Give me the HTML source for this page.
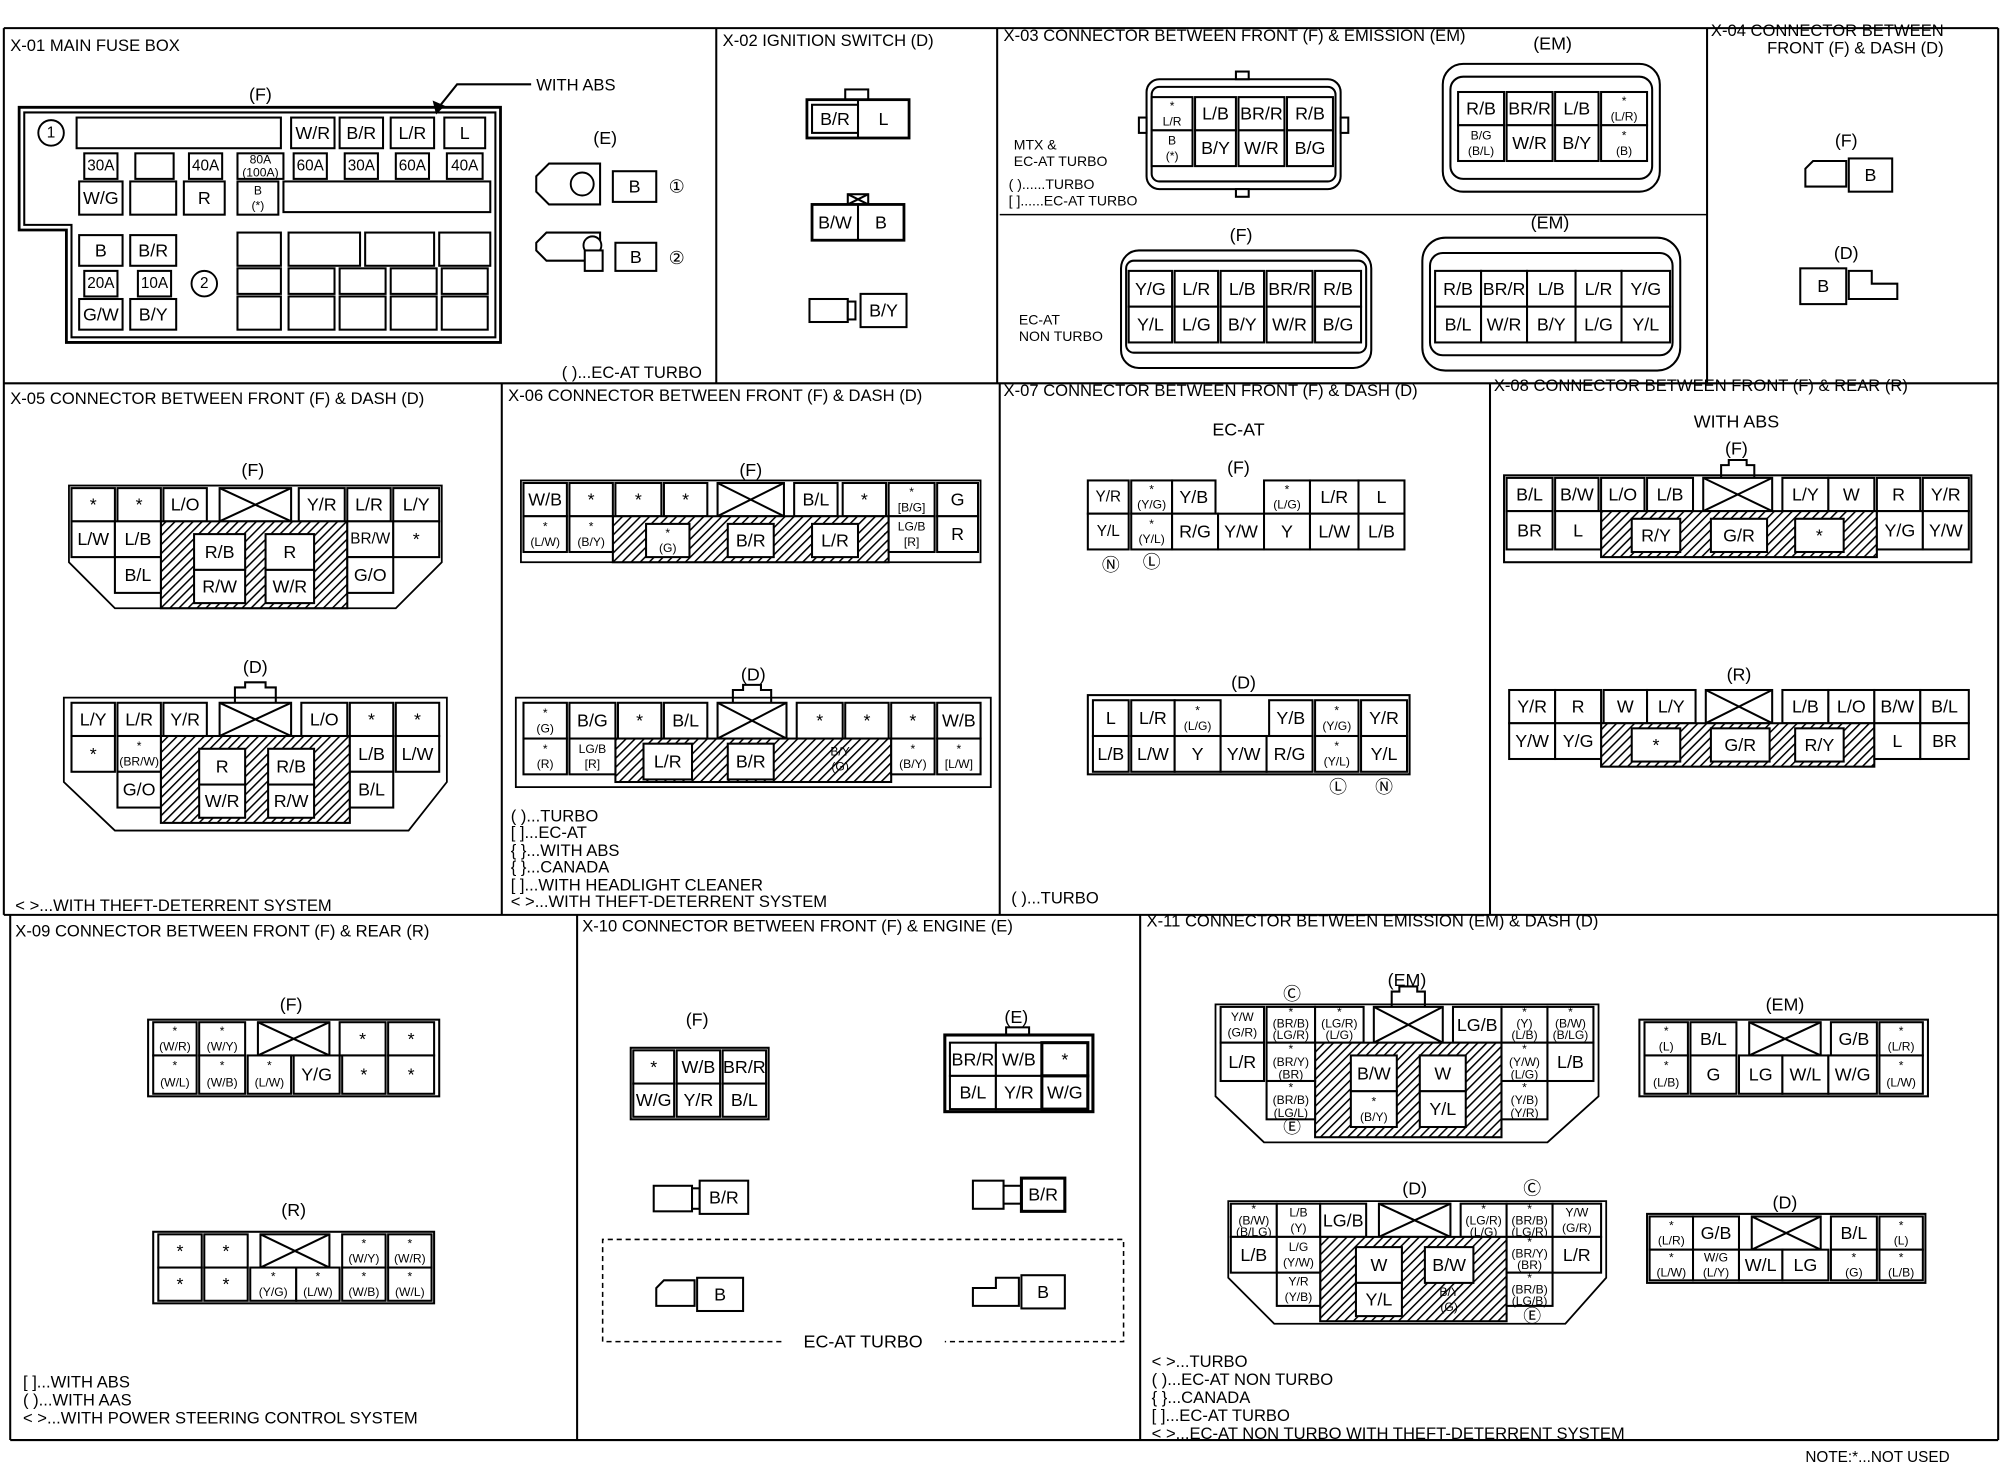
<!DOCTYPE html>
<html><head><meta charset="utf-8"><style>
html,body{margin:0;padding:0;background:#fff}
svg{display:block}
rect{fill:#fff;stroke:#000;stroke-width:1.6}
rect.h{fill:url(#hatch)}
rect.n{fill:none}
line,polyline,polygon,path{stroke:#000;stroke-width:1.6;fill:none}
text{font-family:"Liberation Sans",sans-serif;font-size:14px;text-anchor:middle;dominant-baseline:central;fill:#000}
text.t{text-anchor:start;font-size:13px;dominant-baseline:auto}
text.s{font-size:9.5px}
circle{fill:#fff;stroke:#000;stroke-width:1.5}
</style></head><body>
<svg width="2002" height="1472" viewBox="0 0 1568 1152" preserveAspectRatio="none" xmlns="http://www.w3.org/2000/svg">
<defs><pattern id="hatch" width="5" height="5" patternUnits="userSpaceOnUse" patternTransform="rotate(45)"><rect x="0" y="0" width="5" height="5" style="fill:#fff;stroke:none"/><line x1="0" y1="0" x2="0" y2="5" style="stroke:#000;stroke-width:2.4"/></pattern></defs>
<rect x="0" y="0" width="1568" height="1152" style="stroke:none"/>
<!-- frame -->
<g style="stroke-width:2.2">
<line x1="3" y1="22" x2="1565" y2="22"/><line x1="3" y1="300" x2="1565" y2="300"/><line x1="3" y1="716" x2="1565" y2="716"/><line x1="8" y1="1127" x2="1565" y2="1127"/>
<line x1="3" y1="22" x2="3" y2="716"/><line x1="561" y1="22" x2="561" y2="300"/><line x1="781" y1="22" x2="781" y2="300"/><line x1="1337" y1="22" x2="1337" y2="300"/><line x1="1565" y1="22" x2="1565" y2="1127"/>
<line x1="393" y1="300" x2="393" y2="716"/><line x1="783" y1="300" x2="783" y2="716"/><line x1="1167" y1="300" x2="1167" y2="716"/>
<line x1="8" y1="716" x2="8" y2="1127"/><line x1="452" y1="716" x2="452" y2="1127"/><line x1="893" y1="716" x2="893" y2="1127"/>
<line x1="783" y1="168" x2="1337" y2="168" style="stroke-width:1.2"/>
</g>
<!-- titles -->
<text class="t" x="8" y="40">X-01 MAIN FUSE BOX</text>
<text class="t" x="566" y="36">X-02 IGNITION SWITCH (D)</text>
<text class="t" x="786" y="32">X-03 CONNECTOR BETWEEN FRONT (F) &amp; EMISSION (EM)</text>
<text class="t" x="1340" y="28">X-04 CONNECTOR BETWEEN</text>
<text class="t" x="1384" y="42">FRONT (F) &amp; DASH (D)</text>
<text class="t" x="8" y="316">X-05 CONNECTOR BETWEEN FRONT (F) &amp; DASH (D)</text>
<text class="t" x="398" y="314">X-06 CONNECTOR BETWEEN FRONT (F) &amp; DASH (D)</text>
<text class="t" x="786" y="310">X-07 CONNECTOR BETWEEN FRONT (F) &amp; DASH (D)</text>
<text class="t" x="1170" y="306">X-08 CONNECTOR BETWEEN FRONT (F) &amp; REAR (R)</text>
<text class="t" x="12" y="733">X-09 CONNECTOR BETWEEN FRONT (F) &amp; REAR (R)</text>
<text class="t" x="456" y="729">X-10 CONNECTOR BETWEEN FRONT (F) &amp; ENGINE (E)</text>
<text class="t" x="898" y="725">X-11 CONNECTOR BETWEEN EMISSION (EM) &amp; DASH (D)</text>

<!-- X-01 -->
<polygon points="15,84 392,84 392,268 52,268 52,180 15,180" style="stroke-width:2.2"/>
<polygon points="19,88 388,88 388,264 56,264 56,176 19,176"/>
<circle cx="40" cy="104" r="10"/><text x="40" y="104" style="font-size:12px">1</text>
<rect x="60" y="92" width="160" height="24"/>
<rect x="228" y="92" width="34" height="24"/><text x="245" y="104">W/R</text>
<rect x="266" y="92" width="34" height="24"/><text x="283" y="104">B/R</text>
<rect x="306" y="92" width="34" height="24"/><text x="323" y="104">L/R</text>
<rect x="348" y="92" width="32" height="24"/><text x="364" y="104">L</text>
<rect x="66" y="120" width="26" height="20"/><text x="79" y="130" style="font-size:12px">30A</text>
<rect x="106" y="120" width="30" height="20"/>
<rect x="148" y="120" width="26" height="20"/><text x="161" y="130" style="font-size:12px">40A</text>
<rect x="186" y="120" width="36" height="20"/><text class="s" x="204" y="125">80A</text><text class="s" x="204" y="135">(100A)</text>
<rect x="230" y="120" width="26" height="20"/><text x="243" y="130" style="font-size:12px">60A</text>
<rect x="270" y="120" width="26" height="20"/><text x="283" y="130" style="font-size:12px">30A</text>
<rect x="310" y="120" width="26" height="20"/><text x="323" y="130" style="font-size:12px">60A</text>
<rect x="350" y="120" width="28" height="20"/><text x="364" y="130" style="font-size:12px">40A</text>
<rect x="62" y="142" width="34" height="26"/><text x="79" y="155">W/G</text>
<rect x="102" y="142" width="36" height="26"/>
<rect x="144" y="142" width="32" height="26"/><text x="160" y="155">R</text>
<rect x="186" y="142" width="32" height="26"/><text class="s" x="202" y="149">B</text><text class="s" x="202" y="161">(*)</text>
<rect x="222" y="142" width="162" height="24"/>
<rect x="62" y="184" width="34" height="24"/><text x="79" y="196">B</text>
<rect x="102" y="184" width="36" height="24"/><text x="120" y="196">B/R</text>
<rect x="66" y="212" width="26" height="20"/><text x="79" y="222" style="font-size:12px">20A</text>
<rect x="108" y="212" width="26" height="20"/><text x="121" y="222" style="font-size:12px">10A</text>
<circle cx="160" cy="222" r="10"/><text x="160" y="222" style="font-size:12px">2</text>
<rect x="62" y="234" width="34" height="24"/><text x="79" y="246">G/W</text>
<rect x="102" y="234" width="36" height="24"/><text x="120" y="246">B/Y</text>
<rect x="186" y="182" width="34" height="26"/><rect x="226" y="182" width="56" height="26"/><rect x="286" y="182" width="54" height="26"/><rect x="344" y="182" width="40" height="26"/>
<rect x="186" y="210" width="34" height="20"/><rect x="226" y="210" width="36" height="20"/><rect x="266" y="210" width="36" height="20"/><rect x="306" y="210" width="36" height="20"/><rect x="346" y="210" width="36" height="20"/>
<rect x="186" y="232" width="34" height="26"/><rect x="226" y="232" width="36" height="26"/><rect x="266" y="232" width="36" height="26"/><rect x="306" y="232" width="36" height="26"/><rect x="346" y="232" width="36" height="26"/>
<text x="204" y="74">(F)</text>
<text class="t" x="420" y="71">WITH ABS</text>
<polyline points="416,66 358,66 342,86"/><polygon points="342,88 340,80 347,83" style="fill:#000"/>
<text x="474" y="108">(E)</text>
<polygon points="430,128 470,128 470,160 430,160 420,150 420,138"/><circle cx="456" cy="144" r="9"/>
<rect x="480" y="134" width="34" height="24"/><text x="497" y="146">B</text><text x="530" y="146">①</text>
<polygon points="428,182 470,182 470,204 428,204 420,196 420,190"/><circle cx="464" cy="192" r="7"/><rect x="458" y="196" width="14" height="16"/>
<rect x="482" y="190" width="32" height="22"/><text x="498" y="201">B</text><text x="530" y="202">②</text>
<text class="t" x="440" y="296">( )...EC-AT TURBO</text>

<!-- X-02 -->
<rect x="662" y="70" width="18" height="8"/>
<rect x="632" y="78" width="80" height="30" style="stroke-width:2.2"/><line x1="672" y1="78" x2="672" y2="108"/>
<rect x="636" y="82" width="36" height="22"/><text x="654" y="93">B/R</text><text x="692" y="93">L</text>
<rect x="664" y="152" width="16" height="8"/><line x1="664" y1="152" x2="680" y2="160"/><line x1="680" y1="152" x2="664" y2="160"/>
<rect x="636" y="160" width="72" height="28" style="stroke-width:2.2"/><line x1="672" y1="160" x2="672" y2="188"/>
<text x="654" y="174">B/W</text><text x="690" y="174">B</text>
<rect x="634" y="234" width="30" height="18"/><rect x="664" y="236" width="6" height="14"/>
<rect x="674" y="230" width="36" height="26"/><text x="692" y="243">B/Y</text>

<!-- X-03 -->
<text x="1216" y="34">(EM)</text>
<rect x="898" y="62" width="152" height="86" rx="10"/><rect x="902" y="68" width="144" height="74" rx="6" class="n"/>
<rect x="892" y="92" width="6" height="12"/><rect x="1050" y="92" width="6" height="12"/><rect x="968" y="148" width="10" height="6"/><rect x="968" y="56" width="10" height="6"/>
<rect x="902" y="76" width="32" height="26"/><text class="s" x="918" y="83">*</text><text class="s" x="918" y="95">L/R</text>
<rect x="936" y="76" width="32" height="26"/><text x="952" y="89">L/B</text>
<rect x="970" y="76" width="36" height="26"/><text x="988" y="89">BR/R</text>
<rect x="1008" y="76" width="36" height="26"/><text x="1026" y="89">R/B</text>
<rect x="902" y="102" width="32" height="28"/><text class="s" x="918" y="110">B</text><text class="s" x="918" y="122">(*)</text>
<rect x="936" y="102" width="32" height="28"/><text x="952" y="116">B/Y</text>
<rect x="970" y="102" width="36" height="28"/><text x="988" y="116">W/R</text>
<rect x="1008" y="102" width="36" height="28"/><text x="1026" y="116">B/G</text>
<text class="t" x="794" y="117" style="font-size:11px">MTX &amp;</text>
<text class="t" x="794" y="130" style="font-size:11px">EC-AT TURBO</text>
<text class="t" x="790" y="148" style="font-size:11px">( )......TURBO</text>
<text class="t" x="790" y="161" style="font-size:11px">[ ]......EC-AT TURBO</text>
<rect x="1130" y="50" width="170" height="100" rx="16"/><rect x="1136" y="60" width="158" height="80" rx="10" class="n"/>
<rect x="1142" y="72" width="36" height="26"/><text x="1160" y="85">R/B</text>
<rect x="1180" y="72" width="36" height="26"/><text x="1198" y="85">BR/R</text>
<rect x="1218" y="72" width="34" height="26"/><text x="1235" y="85">L/B</text>
<rect x="1254" y="72" width="36" height="26"/><text class="s" x="1272" y="79">*</text><text class="s" x="1272" y="91">(L/R)</text>
<rect x="1142" y="98" width="36" height="28"/><text class="s" x="1160" y="106">B/G</text><text class="s" x="1160" y="118">(B/L)</text>
<rect x="1180" y="98" width="36" height="28"/><text x="1198" y="112">W/R</text>
<rect x="1218" y="98" width="34" height="28"/><text x="1235" y="112">B/Y</text>
<rect x="1254" y="98" width="36" height="28"/><text class="s" x="1272" y="106">*</text><text class="s" x="1272" y="118">(B)</text>
<text x="972" y="184">(F)</text>
<rect x="878" y="196" width="196" height="92" rx="14"/><rect x="882" y="204" width="188" height="72" rx="6" class="n"/>
<rect x="884" y="212" width="34" height="28"/><text x="901" y="226">Y/G</text>
<rect x="920" y="212" width="34" height="28"/><text x="937" y="226">L/R</text>
<rect x="956" y="212" width="34" height="28"/><text x="973" y="226">L/B</text>
<rect x="992" y="212" width="36" height="28"/><text x="1010" y="226">BR/R</text>
<rect x="1030" y="212" width="36" height="28"/><text x="1048" y="226">R/B</text>
<rect x="884" y="240" width="34" height="28"/><text x="901" y="254">Y/L</text>
<rect x="920" y="240" width="34" height="28"/><text x="937" y="254">L/G</text>
<rect x="956" y="240" width="34" height="28"/><text x="973" y="254">B/Y</text>
<rect x="992" y="240" width="36" height="28"/><text x="1010" y="254">W/R</text>
<rect x="1030" y="240" width="36" height="28"/><text x="1048" y="254">B/G</text>
<text class="t" x="798" y="254" style="font-size:11px">EC-AT</text>
<text class="t" x="798" y="267" style="font-size:11px">NON TURBO</text>
<text x="1214" y="174">(EM)</text>
<rect x="1114" y="186" width="202" height="104" rx="18"/><rect x="1120" y="198" width="190" height="80" rx="10" class="n"/>
<rect x="1124" y="212" width="36" height="28"/><text x="1142" y="226">R/B</text>
<rect x="1160" y="212" width="36" height="28"/><text x="1178" y="226">BR/R</text>
<rect x="1196" y="212" width="38" height="28"/><text x="1215" y="226">L/B</text>
<rect x="1234" y="212" width="36" height="28"/><text x="1252" y="226">L/R</text>
<rect x="1270" y="212" width="38" height="28"/><text x="1289" y="226">Y/G</text>
<rect x="1124" y="240" width="36" height="28"/><text x="1142" y="254">B/L</text>
<rect x="1160" y="240" width="36" height="28"/><text x="1178" y="254">W/R</text>
<rect x="1196" y="240" width="38" height="28"/><text x="1215" y="254">B/Y</text>
<rect x="1234" y="240" width="36" height="28"/><text x="1252" y="254">L/G</text>
<rect x="1270" y="240" width="38" height="28"/><text x="1289" y="254">Y/L</text>

<!-- X-04 -->
<text x="1446" y="110">(F)</text>
<polygon points="1414,146 1414,132 1420,126 1446,126 1446,146"/>
<rect x="1448" y="124" width="34" height="26"/><text x="1465" y="137">B</text>
<text x="1446" y="198">(D)</text>
<rect x="1410" y="210" width="36" height="28"/><text x="1428" y="224">B</text>
<polygon points="1448,212 1466,212 1466,222 1486,222 1486,234 1448,234"/>

<!-- X-05 -->
<text x="198" y="368">(F)</text>
<polygon points="54,380 346,380 346,440 310,476 90,476 54,440" style="stroke-width:1.4"/>
<rect x="56" y="382" width="34" height="26"/><text x="73" y="395">*</text>
<rect x="92" y="382" width="34" height="26"/><text x="109" y="395">*</text>
<rect x="128" y="382" width="34" height="26"/><text x="145" y="395">L/O</text>
<rect x="172" y="382" width="56" height="26"/><line x1="172" y1="382" x2="228" y2="408"/><line x1="228" y1="382" x2="172" y2="408"/>
<rect x="234" y="382" width="36" height="26"/><text x="252" y="395">Y/R</text>
<rect x="272" y="382" width="34" height="26"/><text x="289" y="395">L/R</text>
<rect x="308" y="382" width="36" height="26"/><text x="326" y="395">L/Y</text>
<rect class="h" x="126" y="408" width="146" height="68"/>
<rect x="152" y="418" width="40" height="28"/><text x="172" y="432">R/B</text>
<rect x="208" y="418" width="38" height="28"/><text x="227" y="432">R</text>
<rect x="152" y="446" width="40" height="26"/><text x="172" y="459">R/W</text>
<rect x="208" y="446" width="38" height="26"/><text x="227" y="459">W/R</text>
<rect x="56" y="408" width="34" height="28"/><text x="73" y="422">L/W</text>
<rect x="90" y="408" width="36" height="28"/><text x="108" y="422">L/B</text>
<rect x="272" y="408" width="36" height="28"/><text x="290" y="422" style="font-size:12px">BR/W</text>
<rect x="308" y="408" width="36" height="28"/><text x="326" y="422">*</text>
<rect x="90" y="436" width="36" height="28"/><text x="108" y="450">B/L</text>
<rect x="272" y="436" width="36" height="28"/><text x="290" y="450">G/O</text>
<text x="200" y="522">(D)</text>
<polygon points="50,546 350,546 350,612 320,650 90,650 50,612" style="stroke-width:1.4"/>
<polyline points="184,550 184,538 192,538 192,534 208,534 208,538 216,538 216,550"/>
<rect x="56" y="550" width="34" height="26"/><text x="73" y="563">L/Y</text>
<rect x="92" y="550" width="34" height="26"/><text x="109" y="563">L/R</text>
<rect x="128" y="550" width="34" height="26"/><text x="145" y="563">Y/R</text>
<rect x="172" y="550" width="56" height="26"/><line x1="172" y1="550" x2="228" y2="576"/><line x1="228" y1="550" x2="172" y2="576"/>
<rect x="236" y="550" width="36" height="26"/><text x="254" y="563">L/O</text>
<rect x="274" y="550" width="34" height="26"/><text x="291" y="563">*</text>
<rect x="310" y="550" width="34" height="26"/><text x="327" y="563">*</text>
<rect class="h" x="126" y="576" width="148" height="68"/>
<rect x="156" y="586" width="36" height="28"/><text x="174" y="600">R</text>
<rect x="210" y="586" width="36" height="28"/><text x="228" y="600">R/B</text>
<rect x="156" y="614" width="36" height="26"/><text x="174" y="627">W/R</text>
<rect x="210" y="614" width="36" height="26"/><text x="228" y="627">R/W</text>
<rect x="56" y="576" width="34" height="28"/><text x="73" y="590">*</text>
<rect x="92" y="576" width="34" height="28"/><text class="s" x="109" y="584">*</text><text class="s" x="109" y="596">(BR/W)</text>
<rect x="274" y="576" width="34" height="28"/><text x="291" y="590">L/B</text>
<rect x="310" y="576" width="34" height="28"/><text x="327" y="590">L/W</text>
<rect x="92" y="604" width="34" height="28"/><text x="109" y="618">G/O</text>
<rect x="274" y="604" width="34" height="28"/><text x="291" y="618">B/L</text>
<text class="t" x="12" y="713">&lt; &gt;...WITH THEFT-DETERRENT SYSTEM</text>

<!-- X-06 -->
<text x="588" y="368">(F)</text>
<rect x="408" y="376" width="360" height="64" class="n" style="stroke-width:1.4"/>
<rect x="410" y="378" width="34" height="26"/><text x="427" y="391">W/B</text>
<rect x="446" y="378" width="34" height="26"/><text x="463" y="391">*</text>
<rect x="482" y="378" width="36" height="26"/><text x="500" y="391">*</text>
<rect x="520" y="378" width="34" height="26"/><text x="537" y="391">*</text>
<rect x="562" y="378" width="52" height="26"/><line x1="562" y1="378" x2="614" y2="404"/><line x1="614" y1="378" x2="562" y2="404"/>
<rect x="622" y="378" width="34" height="26"/><text x="639" y="391">B/L</text>
<rect x="660" y="378" width="34" height="26"/><text x="677" y="391">*</text>
<rect x="696" y="378" width="36" height="26"/><text class="s" x="714" y="385">*</text><text class="s" x="714" y="397">[B/G]</text>
<rect x="734" y="378" width="32" height="26"/><text x="750" y="391">G</text>
<rect class="h" x="480" y="404" width="216" height="36"/>
<rect x="506" y="410" width="34" height="26"/><text class="s" x="523" y="417">*</text><text class="s" x="523" y="429">(G)</text>
<rect x="570" y="410" width="36" height="26"/><text x="588" y="423">B/R</text>
<rect x="636" y="410" width="36" height="26"/><text x="654" y="423">L/R</text>
<rect x="410" y="404" width="34" height="28"/><text class="s" x="427" y="412">*</text><text class="s" x="427" y="424">(L/W)</text>
<rect x="446" y="404" width="34" height="28"/><text class="s" x="463" y="412">*</text><text class="s" x="463" y="424">(B/Y)</text>
<rect x="696" y="404" width="36" height="28"/><text class="s" x="714" y="412">LG/B</text><text class="s" x="714" y="424">[R]</text>
<rect x="734" y="404" width="32" height="28"/><text x="750" y="418">R</text>
<text x="590" y="528">(D)</text>
<rect x="404" y="546" width="372" height="70" class="n" style="stroke-width:1.4"/>
<polyline points="574,550 574,540 582,540 582,536 596,536 596,540 604,540 604,550"/>
<rect x="410" y="550" width="34" height="28"/><text class="s" x="427" y="558">*</text><text class="s" x="427" y="570">(G)</text>
<rect x="446" y="550" width="36" height="28"/><text x="464" y="564">B/G</text>
<rect x="484" y="550" width="34" height="28"/><text x="501" y="564">*</text>
<rect x="520" y="550" width="34" height="28"/><text x="537" y="564">B/L</text>
<rect x="562" y="550" width="54" height="28"/><line x1="562" y1="550" x2="616" y2="578"/><line x1="616" y1="550" x2="562" y2="578"/>
<rect x="624" y="550" width="36" height="28"/><text x="642" y="564">*</text>
<rect x="662" y="550" width="34" height="28"/><text x="679" y="564">*</text>
<rect x="698" y="550" width="34" height="28"/><text x="715" y="564">*</text>
<rect x="734" y="550" width="34" height="28"/><text x="751" y="564">W/B</text>
<rect class="h" x="482" y="578" width="216" height="34"/>
<rect x="504" y="582" width="38" height="28"/><text x="523" y="596">L/R</text>
<rect x="570" y="582" width="36" height="28"/><text x="588" y="596">B/R</text>
<text class="s" x="658" y="588">B/Y</text><text class="s" x="658" y="600">(G)</text>
<rect x="410" y="578" width="34" height="28"/><text class="s" x="427" y="586">*</text><text class="s" x="427" y="598">(R)</text>
<rect x="446" y="578" width="36" height="28"/><text class="s" x="464" y="586">LG/B</text><text class="s" x="464" y="598">[R]</text>
<rect x="698" y="578" width="34" height="28"/><text class="s" x="715" y="586">*</text><text class="s" x="715" y="598">(B/Y)</text>
<rect x="734" y="578" width="34" height="28"/><text class="s" x="751" y="586">*</text><text class="s" x="751" y="598">[L/W]</text>
<g style="font-size:12px">
<text class="t" x="400" y="643">( )...TURBO</text>
<text class="t" x="400" y="656">[ ]...EC-AT</text>
<text class="t" x="400" y="670">{ }...WITH ABS</text>
<text class="t" x="400" y="683">{ }...CANADA</text>
<text class="t" x="400" y="697">[ ]...WITH HEADLIGHT CLEANER</text>
<text class="t" x="400" y="710">&lt; &gt;...WITH THEFT-DETERRENT SYSTEM</text>
</g>

<!-- X-07 -->
<text x="970" y="336">EC-AT</text>
<text x="970" y="366">(F)</text>
<rect x="852" y="376" width="32" height="26"/><text x="868" y="389" style="font-size:12px">Y/R</text>
<rect x="886" y="376" width="32" height="26"/><text class="s" x="902" y="383">*</text><text class="s" x="902" y="395">(Y/G)</text>
<rect x="918" y="376" width="34" height="26"/><text x="935" y="389">Y/B</text>
<rect x="990" y="376" width="36" height="26"/><text class="s" x="1008" y="383">*</text><text class="s" x="1008" y="395">(L/G)</text>
<rect x="1026" y="376" width="38" height="26"/><text x="1045" y="389">L/R</text>
<rect x="1064" y="376" width="36" height="26"/><text x="1082" y="389">L</text>
<rect x="852" y="402" width="32" height="28"/><text x="868" y="416" style="font-size:12px">Y/L</text>
<rect x="886" y="402" width="32" height="28"/><text class="s" x="902" y="410">*</text><text class="s" x="902" y="422">(Y/L)</text>
<rect x="918" y="402" width="36" height="28"/><text x="936" y="416">R/G</text>
<rect x="954" y="402" width="36" height="28"/><text x="972" y="416">Y/W</text>
<rect x="990" y="402" width="36" height="28"/><text x="1008" y="416">Y</text>
<rect x="1026" y="402" width="38" height="28"/><text x="1045" y="416">L/W</text>
<rect x="1064" y="402" width="36" height="28"/><text x="1082" y="416">L/B</text>
<text x="870" y="442">Ⓝ</text><text x="902" y="440">Ⓛ</text>
<text x="974" y="534">(D)</text>
<rect x="852" y="544" width="252" height="62" class="n"/>
<rect x="856" y="548" width="28" height="28"/><text x="870" y="562">L</text>
<rect x="886" y="548" width="34" height="28"/><text x="903" y="562">L/R</text>
<rect x="920" y="548" width="36" height="28"/><text class="s" x="938" y="556">*</text><text class="s" x="938" y="568">(L/G)</text>
<rect x="994" y="548" width="34" height="28"/><text x="1011" y="562">Y/B</text>
<rect x="1030" y="548" width="34" height="28"/><text class="s" x="1047" y="556">*</text><text class="s" x="1047" y="568">(Y/G)</text>
<rect x="1066" y="548" width="36" height="28"/><text x="1084" y="562">Y/R</text>
<rect x="856" y="576" width="28" height="28"/><text x="870" y="590">L/B</text>
<rect x="886" y="576" width="34" height="28"/><text x="903" y="590">L/W</text>
<rect x="920" y="576" width="36" height="28"/><text x="938" y="590">Y</text>
<rect x="956" y="576" width="36" height="28"/><text x="974" y="590">Y/W</text>
<rect x="992" y="576" width="36" height="28"/><text x="1010" y="590">R/G</text>
<rect x="1030" y="576" width="34" height="28"/><text class="s" x="1047" y="584">*</text><text class="s" x="1047" y="596">(Y/L)</text>
<rect x="1066" y="576" width="36" height="28"/><text x="1084" y="590">Y/L</text>
<text x="1048" y="616">Ⓛ</text><text x="1084" y="616">Ⓝ</text>
<text class="t" x="792" y="707">( )...TURBO</text>

<!-- X-08 -->
<text x="1360" y="330">WITH ABS</text>
<text x="1360" y="351">(F)</text>
<rect x="1178" y="372" width="366" height="68" class="n"/>
<polyline points="1348,374 1348,364 1354,364 1354,360 1368,360 1368,364 1374,364 1374,374"/>
<rect x="1180" y="374" width="36" height="26"/><text x="1198" y="387">B/L</text>
<rect x="1218" y="374" width="34" height="26"/><text x="1235" y="387">B/W</text>
<rect x="1254" y="374" width="34" height="26"/><text x="1271" y="387">L/O</text>
<rect x="1290" y="374" width="36" height="26"/><text x="1308" y="387">L/B</text>
<rect x="1334" y="374" width="54" height="26"/><line x1="1334" y1="374" x2="1388" y2="400"/><line x1="1388" y1="374" x2="1334" y2="400"/>
<rect x="1396" y="374" width="36" height="26"/><text x="1414" y="387">L/Y</text>
<rect x="1432" y="374" width="36" height="26"/><text x="1450" y="387">W</text>
<rect x="1470" y="374" width="34" height="26"/><text x="1487" y="387">R</text>
<rect x="1506" y="374" width="36" height="26"/><text x="1524" y="387">Y/R</text>
<rect class="h" x="1254" y="400" width="216" height="36"/>
<rect x="1278" y="406" width="38" height="26"/><text x="1297" y="419">R/Y</text>
<rect x="1340" y="406" width="44" height="26"/><text x="1362" y="419">G/R</text>
<rect x="1406" y="406" width="38" height="26"/><text x="1425" y="419">*</text>
<rect x="1180" y="400" width="36" height="30"/><text x="1198" y="415">BR</text>
<rect x="1218" y="400" width="36" height="30"/><text x="1236" y="415">L</text>
<rect x="1470" y="400" width="36" height="30"/><text x="1488" y="415">Y/G</text>
<rect x="1506" y="400" width="36" height="30"/><text x="1524" y="415">Y/W</text>
<text x="1362" y="528">(R)</text>
<rect x="1182" y="540" width="36" height="26"/><text x="1200" y="553">Y/R</text>
<rect x="1218" y="540" width="36" height="26"/><text x="1236" y="553">R</text>
<rect x="1256" y="540" width="34" height="26"/><text x="1273" y="553">W</text>
<rect x="1290" y="540" width="38" height="26"/><text x="1309" y="553">L/Y</text>
<rect x="1336" y="540" width="52" height="26"/><line x1="1336" y1="540" x2="1388" y2="566"/><line x1="1388" y1="540" x2="1336" y2="566"/>
<rect x="1396" y="540" width="36" height="26"/><text x="1414" y="553">L/B</text>
<rect x="1432" y="540" width="36" height="26"/><text x="1450" y="553">L/O</text>
<rect x="1468" y="540" width="36" height="26"/><text x="1486" y="553">B/W</text>
<rect x="1504" y="540" width="38" height="26"/><text x="1523" y="553">B/L</text>
<rect class="h" x="1254" y="566" width="214" height="34"/>
<rect x="1278" y="570" width="38" height="26"/><text x="1297" y="583">*</text>
<rect x="1340" y="570" width="46" height="26"/><text x="1363" y="583">G/R</text>
<rect x="1406" y="570" width="38" height="26"/><text x="1425" y="583">R/Y</text>
<rect x="1182" y="566" width="36" height="28"/><text x="1200" y="580">Y/W</text>
<rect x="1218" y="566" width="36" height="28"/><text x="1236" y="580">Y/G</text>
<rect x="1468" y="566" width="36" height="28"/><text x="1486" y="580">L</text>
<rect x="1504" y="566" width="38" height="28"/><text x="1523" y="580">BR</text>

<!-- X-09 -->
<text x="228" y="786">(F)</text>
<rect x="116" y="798" width="228" height="60" class="n"/>
<rect x="120" y="800" width="34" height="26"/><text class="s" x="137" y="807">*</text><text class="s" x="137" y="819">(W/R)</text>
<rect x="156" y="800" width="36" height="26"/><text class="s" x="174" y="807">*</text><text class="s" x="174" y="819">(W/Y)</text>
<rect x="202" y="800" width="56" height="26"/><line x1="202" y1="800" x2="258" y2="826"/><line x1="258" y1="800" x2="202" y2="826"/>
<rect x="266" y="800" width="36" height="26"/><text x="284" y="813">*</text>
<rect x="304" y="800" width="36" height="26"/><text x="322" y="813">*</text>
<rect x="120" y="826" width="34" height="30"/><text class="s" x="137" y="834">*</text><text class="s" x="137" y="847">(W/L)</text>
<rect x="156" y="826" width="36" height="30"/><text class="s" x="174" y="834">*</text><text class="s" x="174" y="847">(W/B)</text>
<rect x="194" y="826" width="34" height="30"/><text class="s" x="211" y="834">*</text><text class="s" x="211" y="847">(L/W)</text>
<rect x="230" y="826" width="36" height="30"/><text x="248" y="841">Y/G</text>
<rect x="268" y="826" width="34" height="30"/><text x="285" y="841">*</text>
<rect x="304" y="826" width="36" height="30"/><text x="322" y="841">*</text>
<text x="230" y="947">(R)</text>
<rect x="120" y="964" width="220" height="56" class="n"/>
<rect x="124" y="966" width="34" height="26"/><text x="141" y="979">*</text>
<rect x="160" y="966" width="34" height="26"/><text x="177" y="979">*</text>
<rect x="204" y="966" width="54" height="26"/><line x1="204" y1="966" x2="258" y2="992"/><line x1="258" y1="966" x2="204" y2="992"/>
<rect x="268" y="966" width="34" height="26"/><text class="s" x="285" y="973">*</text><text class="s" x="285" y="985">(W/Y)</text>
<rect x="304" y="966" width="34" height="26"/><text class="s" x="321" y="973">*</text><text class="s" x="321" y="985">(W/R)</text>
<rect x="124" y="992" width="34" height="26"/><text x="141" y="1005">*</text>
<rect x="160" y="992" width="34" height="26"/><text x="177" y="1005">*</text>
<rect x="196" y="992" width="36" height="26"/><text class="s" x="214" y="999">*</text><text class="s" x="214" y="1011">(Y/G)</text>
<rect x="232" y="992" width="34" height="26"/><text class="s" x="249" y="999">*</text><text class="s" x="249" y="1011">(L/W)</text>
<rect x="268" y="992" width="34" height="26"/><text class="s" x="285" y="999">*</text><text class="s" x="285" y="1011">(W/B)</text>
<rect x="304" y="992" width="34" height="26"/><text class="s" x="321" y="999">*</text><text class="s" x="321" y="1011">(W/L)</text>
<g style="font-size:12px">
<text class="t" x="18" y="1086">[ ]...WITH ABS</text>
<text class="t" x="18" y="1100">( )...WITH AAS</text>
<text class="t" x="18" y="1114">&lt; &gt;...WITH POWER STEERING CONTROL SYSTEM</text>
</g>

<!-- X-10 -->
<text x="546" y="798">(F)</text>
<rect x="494" y="820" width="108" height="56" class="n"/>
<rect x="496" y="822" width="32" height="26"/><text x="512" y="835">*</text>
<rect x="530" y="822" width="34" height="26"/><text x="547" y="835">W/B</text>
<rect x="566" y="822" width="34" height="26"/><text x="583" y="835">BR/R</text>
<rect x="496" y="848" width="32" height="26"/><text x="512" y="861">W/G</text>
<rect x="530" y="848" width="34" height="26"/><text x="547" y="861">Y/R</text>
<rect x="566" y="848" width="34" height="26"/><text x="583" y="861">B/L</text>
<text x="796" y="796">(E)</text>
<rect x="788" y="804" width="18" height="6"/>
<rect x="740" y="810" width="116" height="60" class="n" style="stroke-width:2.4"/>
<rect x="744" y="816" width="36" height="26"/><text x="762" y="829">BR/R</text>
<rect x="780" y="816" width="36" height="26"/><text x="798" y="829">W/B</text>
<rect x="816" y="816" width="36" height="26" style="stroke-width:2.4"/><text x="834" y="829">*</text>
<rect x="744" y="842" width="36" height="26"/><text x="762" y="855">B/L</text>
<rect x="780" y="842" width="36" height="26"/><text x="798" y="855">Y/R</text>
<rect x="816" y="842" width="36" height="26" style="stroke-width:2.4"/><text x="834" y="855">W/G</text>
<rect x="512" y="928" width="30" height="20"/><rect x="542" y="930" width="6" height="16"/>
<rect x="548" y="924" width="38" height="26"/><text x="567" y="937">B/R</text>
<rect x="762" y="924" width="24" height="22"/><rect x="786" y="928" width="14" height="14"/>
<rect x="800" y="922" width="34" height="26" style="stroke-width:2.4"/><text x="817" y="935">B/R</text>
<polyline points="612,1050 472,1050 472,970 880,970 880,1050 740,1050" style="stroke-dasharray:4 3;stroke-width:1.2"/>
<text x="676" y="1050">EC-AT TURBO</text>
<polygon points="514,1022 514,1008 520,1002 544,1002 544,1022"/>
<rect x="546" y="1000" width="36" height="26"/><text x="564" y="1013">B</text>
<polygon points="762,1022 762,1008 780,1008 780,1000 798,1000 798,1022"/>
<rect x="800" y="998" width="34" height="26"/><text x="817" y="1011">B</text>

<!-- X-11 top-left -->
<text x="1012" y="778">Ⓒ</text><text x="1102" y="767">(EM)</text>
<polygon points="952,786 1252,786 1252,858 1212,894 990,894 952,858" style="stroke-width:1.4"/>
<polyline points="1090,788 1090,776 1096,776 1096,772 1110,772 1110,776 1116,776 1116,788"/>
<rect x="956" y="788" width="34" height="28"/><text class="s" x="973" y="796">Y/W</text><text class="s" x="973" y="808">(G/R)</text>
<rect x="992" y="788" width="38" height="28"/><text class="s" x="1011" y="792">*</text><text class="s" x="1011" y="801">(BR/B)</text><text class="s" x="1011" y="810">(LG/R)</text>
<rect x="1030" y="788" width="38" height="28"/><text class="s" x="1049" y="792">*</text><text class="s" x="1049" y="801">(LG/R)</text><text class="s" x="1049" y="810">(L/G)</text>
<rect x="1076" y="788" width="54" height="28"/><line x1="1076" y1="788" x2="1130" y2="816"/><line x1="1130" y1="788" x2="1076" y2="816"/>
<rect x="1138" y="788" width="38" height="28"/><text x="1157" y="802">LG/B</text>
<rect x="1176" y="788" width="36" height="28"/><text class="s" x="1194" y="792">*</text><text class="s" x="1194" y="801">(Y)</text><text class="s" x="1194" y="810">(L/B)</text>
<rect x="1212" y="788" width="36" height="28"/><text class="s" x="1230" y="792">*</text><text class="s" x="1230" y="801">(B/W)</text><text class="s" x="1230" y="810">(B/LG)</text>
<rect class="h" x="1030" y="816" width="146" height="74"/>
<rect x="1058" y="826" width="36" height="28"/><text x="1076" y="840">B/W</text>
<rect x="1112" y="826" width="36" height="28"/><text x="1130" y="840">W</text>
<rect x="1058" y="854" width="36" height="28"/><text class="s" x="1076" y="862">*</text><text class="s" x="1076" y="874">(B/Y)</text>
<rect x="1112" y="854" width="36" height="28"/><text x="1130" y="868">Y/L</text>
<rect x="956" y="816" width="34" height="30"/><text x="973" y="831">L/R</text>
<rect x="992" y="816" width="38" height="30"/><text class="s" x="1011" y="821">*</text><text class="s" x="1011" y="831">(BR/Y)</text><text class="s" x="1011" y="841">(BR)</text>
<rect x="1176" y="816" width="36" height="30"/><text class="s" x="1194" y="821">*</text><text class="s" x="1194" y="831">(Y/W)</text><text class="s" x="1194" y="841">(L/G)</text>
<rect x="1212" y="816" width="36" height="30"/><text x="1230" y="831">L/B</text>
<rect x="992" y="846" width="38" height="30"/><text class="s" x="1011" y="851">*</text><text class="s" x="1011" y="861">(BR/B)</text><text class="s" x="1011" y="871">(LG/L)</text>
<rect x="1176" y="846" width="36" height="30"/><text class="s" x="1194" y="851">*</text><text class="s" x="1194" y="861">(Y/B)</text><text class="s" x="1194" y="871">(Y/R)</text>
<text x="1012" y="882">Ⓔ</text>
<!-- X-11 top-right -->
<text x="1398" y="786">(EM)</text>
<rect x="1284" y="798" width="226" height="60" class="n"/>
<rect x="1288" y="800" width="34" height="26"/><text class="s" x="1305" y="807">*</text><text class="s" x="1305" y="819">(L)</text>
<rect x="1324" y="800" width="36" height="26"/><text x="1342" y="813">B/L</text>
<rect x="1370" y="800" width="56" height="26"/><line x1="1370" y1="800" x2="1426" y2="826"/><line x1="1426" y1="800" x2="1370" y2="826"/>
<rect x="1434" y="800" width="36" height="26"/><text x="1452" y="813">G/B</text>
<rect x="1472" y="800" width="34" height="26"/><text class="s" x="1489" y="807">*</text><text class="s" x="1489" y="819">(L/R)</text>
<rect x="1288" y="826" width="34" height="30"/><text class="s" x="1305" y="834">*</text><text class="s" x="1305" y="847">(L/B)</text>
<rect x="1324" y="826" width="36" height="30"/><text x="1342" y="841">G</text>
<rect x="1362" y="826" width="34" height="30"/><text x="1379" y="841">LG</text>
<rect x="1396" y="826" width="36" height="30"/><text x="1414" y="841">W/L</text>
<rect x="1432" y="826" width="38" height="30"/><text x="1451" y="841">W/G</text>
<rect x="1472" y="826" width="34" height="30"/><text class="s" x="1489" y="834">*</text><text class="s" x="1489" y="847">(L/W)</text>
<!-- X-11 bottom-left -->
<text x="1108" y="930">(D)</text><text x="1200" y="930">Ⓒ</text>
<polygon points="962,940 1258,940 1258,1000 1226,1036 998,1036 962,1000" style="stroke-width:1.4"/>
<rect x="964" y="942" width="36" height="26"/><text class="s" x="982" y="946">*</text><text class="s" x="982" y="955">(B/W)</text><text class="s" x="982" y="964">(B/LG)</text>
<rect x="1000" y="942" width="34" height="26"/><text class="s" x="1017" y="949">L/B</text><text class="s" x="1017" y="961">(Y)</text>
<rect x="1034" y="942" width="36" height="26"/><text x="1052" y="955">LG/B</text>
<rect x="1080" y="942" width="56" height="26"/><line x1="1080" y1="942" x2="1136" y2="968"/><line x1="1136" y1="942" x2="1080" y2="968"/>
<rect x="1144" y="942" width="36" height="26"/><text class="s" x="1162" y="946">*</text><text class="s" x="1162" y="955">(LG/R)</text><text class="s" x="1162" y="964">(L/G)</text>
<rect x="1180" y="942" width="36" height="26"/><text class="s" x="1198" y="946">*</text><text class="s" x="1198" y="955">(BR/B)</text><text class="s" x="1198" y="964">(LG/R)</text>
<rect x="1216" y="942" width="38" height="26"/><text class="s" x="1235" y="949">Y/W</text><text class="s" x="1235" y="961">(G/R)</text>
<rect class="h" x="1034" y="968" width="146" height="66"/>
<rect x="1062" y="976" width="36" height="28"/><text x="1080" y="990">W</text>
<rect x="1116" y="976" width="38" height="28"/><text x="1135" y="990">B/W</text>
<rect x="1062" y="1004" width="36" height="26"/><text x="1080" y="1017">Y/L</text>
<text class="s" x="1135" y="1011">B/Y</text><text class="s" x="1135" y="1023">(G)</text>
<rect x="964" y="968" width="36" height="28"/><text x="982" y="982">L/B</text>
<rect x="1000" y="968" width="34" height="28"/><text class="s" x="1017" y="976">L/G</text><text class="s" x="1017" y="988">(Y/W)</text>
<rect x="1180" y="968" width="36" height="28"/><text class="s" x="1198" y="972">*</text><text class="s" x="1198" y="981">(BR/Y)</text><text class="s" x="1198" y="990">(BR)</text>
<rect x="1216" y="968" width="38" height="28"/><text x="1235" y="982">L/R</text>
<rect x="1000" y="996" width="34" height="26"/><text class="s" x="1017" y="1003">Y/R</text><text class="s" x="1017" y="1015">(Y/B)</text>
<rect x="1180" y="996" width="36" height="26"/><text class="s" x="1198" y="1000">*</text><text class="s" x="1198" y="1009">(BR/B)</text><text class="s" x="1198" y="1018">(LG/B)</text>
<text x="1200" y="1030">Ⓔ</text>
<!-- X-11 bottom-right -->
<text x="1398" y="941">(D)</text>
<rect x="1290" y="950" width="218" height="54" class="n"/>
<rect x="1292" y="952" width="34" height="26"/><text class="s" x="1309" y="959">*</text><text class="s" x="1309" y="971">(L/R)</text>
<rect x="1326" y="952" width="36" height="26"/><text x="1344" y="965">G/B</text>
<rect x="1372" y="952" width="54" height="26"/><line x1="1372" y1="952" x2="1426" y2="978"/><line x1="1426" y1="952" x2="1372" y2="978"/>
<rect x="1434" y="952" width="36" height="26"/><text x="1452" y="965">B/L</text>
<rect x="1472" y="952" width="34" height="26"/><text class="s" x="1489" y="959">*</text><text class="s" x="1489" y="971">(L)</text>
<rect x="1292" y="978" width="34" height="24"/><text class="s" x="1309" y="984">*</text><text class="s" x="1309" y="996">(L/W)</text>
<rect x="1326" y="978" width="36" height="24"/><text class="s" x="1344" y="984">W/G</text><text class="s" x="1344" y="996">(L/Y)</text>
<rect x="1362" y="978" width="34" height="24"/><text x="1379" y="990">W/L</text>
<rect x="1396" y="978" width="36" height="24"/><text x="1414" y="990">LG</text>
<rect x="1434" y="978" width="36" height="24"/><text class="s" x="1452" y="984">*</text><text class="s" x="1452" y="996">(G)</text>
<rect x="1472" y="978" width="34" height="24"/><text class="s" x="1489" y="984">*</text><text class="s" x="1489" y="996">(L/B)</text>
<g style="font-size:12px">
<text class="t" x="902" y="1070">&lt; &gt;...TURBO</text>
<text class="t" x="902" y="1084">( )...EC-AT NON TURBO</text>
<text class="t" x="902" y="1098">{ }...CANADA</text>
<text class="t" x="902" y="1112">[ ]...EC-AT TURBO</text>
<text class="t" x="902" y="1126">&lt; &gt;...EC-AT NON TURBO WITH THEFT-DETERRENT SYSTEM</text>
</g>
<text class="t" x="1414" y="1144" style="font-size:12px">NOTE:*...NOT USED</text>
</svg>
</body></html>
